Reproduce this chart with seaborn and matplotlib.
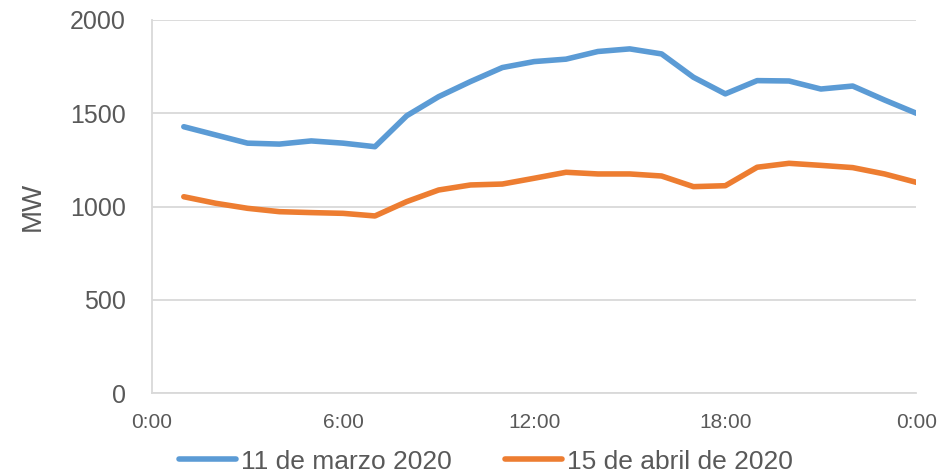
"""Hourly demand (MW): 11 March 2020 vs 15 April 2020."""
import matplotlib
matplotlib.use("Agg")
import matplotlib.pyplot as plt
import pandas as pd
import seaborn as sns

# Hour of day for each reading (1..24, 24 = midnight of next day).
hours = list(range(1, 25))
marzo = [1428, 1384, 1340, 1335, 1352, 1340, 1321, 1487, 1589, 1670, 1745, 1777,
         1790, 1831, 1845, 1818, 1693, 1604, 1675, 1673, 1630, 1646, 1571, 1500]
abril = [1053, 1018, 991, 973, 968, 964, 950, 1027, 1089, 1116, 1121, 1152,
         1184, 1175, 1175, 1164, 1107, 1112, 1211, 1232, 1221, 1209, 1175, 1130]
series_names = ["11 de marzo 2020", "15 de abril de 2020"]
tick_hours = [0, 6, 12, 18, 24]
tick_labels = ["0:00", "6:00", "12:00", "18:00", "0:00"]
y_ticks = [0, 500, 1000, 1500, 2000]

frame = pd.DataFrame({
    "hour": hours * 2,
    "MW": marzo + abril,
    "serie": [series_names[0]] * len(hours) + [series_names[1]] * len(hours),
})

sns.set_theme(style="white")
plt.rcParams["font.family"] = ["Liberation Sans", "DejaVu Sans"]
text_col = "#595959"

fig = plt.figure(figsize=(9.38, 4.75), dpi=100)
ax = fig.add_axes([0.162, 0.172, 0.815, 0.786])

sns.lineplot(data=frame, x="hour", y="MW", hue="serie", hue_order=series_names,
             palette=["#5B9BD5", "#ED7D31"], linewidth=4, ax=ax,
             solid_capstyle="round")

ax.set_xlim(0, 24)
ax.set_ylim(0, 2000)
ax.set_xticks(tick_hours)
ax.set_xticklabels(tick_labels)
ax.set_yticks(y_ticks)
ax.yaxis.grid(True, color="#d9d9d9", linewidth=1.3)
ax.xaxis.grid(False)
for side in ("top", "right"):
    ax.spines[side].set_visible(False)
for side in ("left", "bottom"):
    ax.spines[side].set_color("#d9d9d9")
    ax.spines[side].set_linewidth(1.3)
ax.tick_params(axis="y", length=0, labelsize=18, colors=text_col, pad=19)
ax.tick_params(axis="x", length=0, labelsize=15, colors=text_col, pad=14)
ax.set_xlabel("")
ax.set_ylabel("MW", fontsize=20, color=text_col, labelpad=17)

leg = ax.legend(loc="center", bbox_to_anchor=(0.437, -0.183), ncol=2,
                frameon=False, fontsize=19, handlelength=2.15, columnspacing=2.0,
                handletextpad=0.2, borderaxespad=0, borderpad=0)
for t in leg.get_texts():
    t.set_color(text_col)

fig.savefig("out.png", dpi=100)
